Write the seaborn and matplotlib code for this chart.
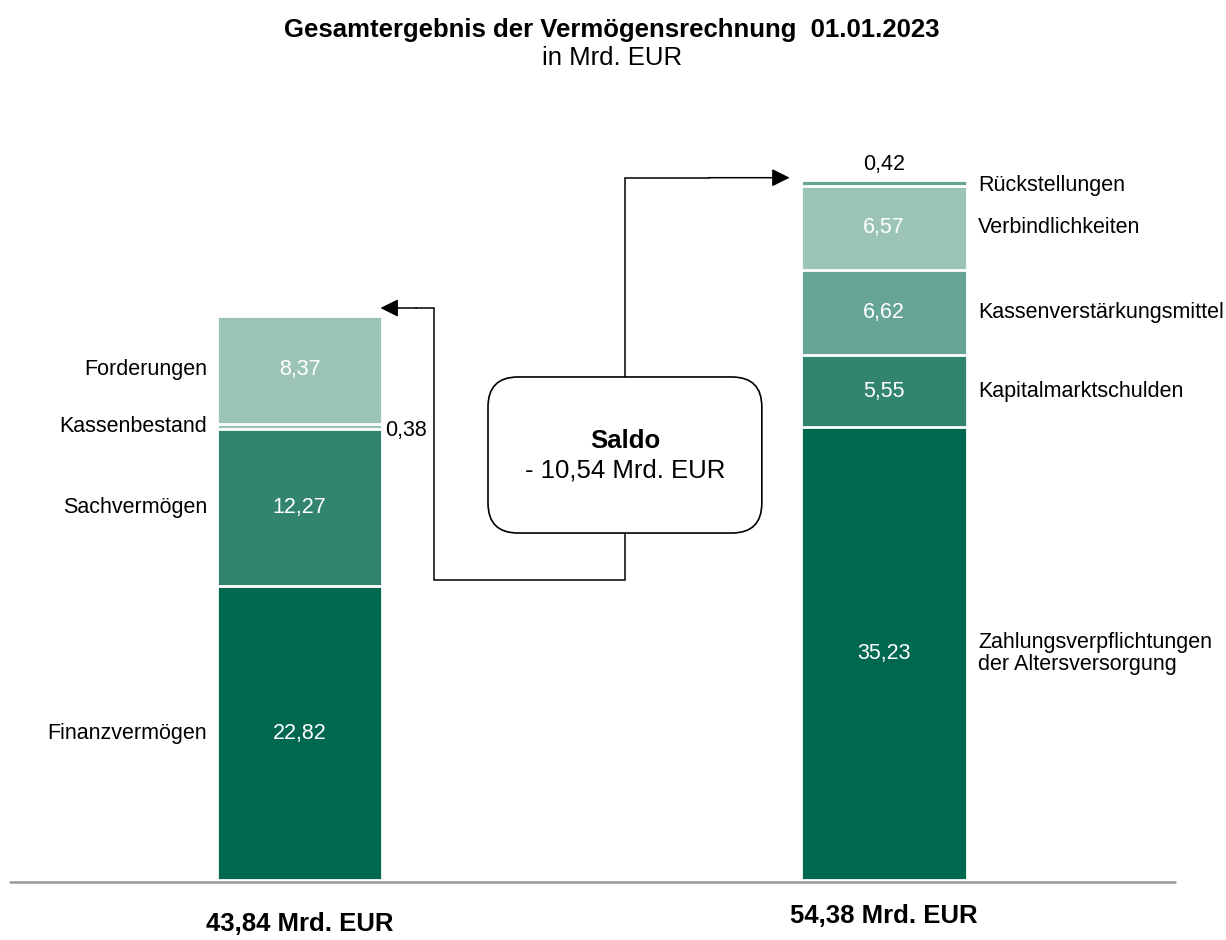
import matplotlib
matplotlib.use("Agg")
import matplotlib.pyplot as plt
from matplotlib.patches import FancyBboxPatch
import seaborn as sns
import pandas as pd

# data
seiten = ["Vermögen", "Schulden"]
aktiva_labels = ["Finanzvermögen", "Sachvermögen", "Kassenbestand", "Forderungen"]
aktiva_werte = [22.82, 12.27, 0.38, 8.37]
passiva_labels = ["Zahlungsverpflichtungen\nder Altersversorgung", "Kapitalmarktschulden",
                  "Kassenverstärkungsmittel", "Verbindlichkeiten", "Rückstellungen"]
passiva_werte = [35.23, 5.55, 6.62, 6.57, 0.42]
summen_text = ["43,84 Mrd. EUR", "54,38 Mrd. EUR"]
saldo_text = "- 10,54 Mrd. EUR"

dunkel = "#00684f"
mittel = "#33846f"
hell = "#66a596"
blass = "#9bc3b8"
aktiva_farben = [dunkel, mittel, blass, blass]
passiva_farben = [dunkel, mittel, hell, blass, hell]

sns.set_theme(style="white")
plt.rcParams["font.family"] = ["Liberation Sans", "DejaVu Sans"]
plt.rcParams["text.color"] = "black"

fig = plt.figure(figsize=(12.26, 9.4), dpi=100)
ax = fig.add_axes([0, 60 / 940, 1, 780 / 940])

bw = 0.283
rows = []
for seite, labels, werte, farben in [(seiten[0], aktiva_labels, aktiva_werte, aktiva_farben),
                                     (seiten[1], passiva_labels, passiva_werte, passiva_farben)]:
    unten = 0
    for lab, w, f in zip(labels, werte, farben):
        rows.append(dict(seite=seite, label=lab, wert=w, unten=unten, oben=unten + w, farbe=f))
        unten += w
df = pd.DataFrame(rows)

# stacked bars: draw cumulative tops from tallest down
for _, r in df.sort_values("oben", ascending=False).iterrows():
    sns.barplot(x=[r.seite], y=[r.oben], order=seiten, color=r.farbe, width=bw,
                saturation=1, edgecolor="white", linewidth=2.0, ax=ax)

ax.set_xlim(-299.5 / 584.5, (1226 - 299.5) / 584.5)
ax.set_ylim(0, 780 / 12.865)
ax.axis("off")
ax.axhline(-0.15, xmin=10 / 1226, xmax=1175 / 1226, color="#999999", lw=1.8, clip_on=False)

fs = 15.5
pos = {s: i for i, s in enumerate(seiten)}
for _, r in df.iterrows():
    x = pos[r.seite]
    mitte = (r.unten + r.oben) / 2
    if r.wert > 1:
        ax.text(x, mitte, f"{r.wert:.2f}".replace(".", ","), color="white",
                ha="center", va="center", fontsize=fs)
    if x == 0:
        ax.text(x - bw / 2 - 0.017, mitte, r.label, ha="right", va="center", fontsize=fs)
    else:
        dy = -0.2 if r.wert < 1 else 0
        ax.text(x + bw / 2 + 0.02, mitte + dy, r.label, ha="left", va="center", fontsize=fs,
                linespacing=1.1)

# small values outside the bars
kb = df[df.label == "Kassenbestand"].iloc[0]
ax.text(bw / 2 + 0.005, (kb.unten + kb.oben) / 2 - 0.35, f"{kb.wert:.2f}".replace(".", ","),
        ha="left", va="center", fontsize=fs)
rs = df[df.label == "Rückstellungen"].iloc[0]
ax.text(1, rs.oben + 1.2, f"{rs.wert:.2f}".replace(".", ","), ha="center", va="center", fontsize=fs)

tot_l = sum(aktiva_werte)
tot_r = sum(passiva_werte)
ax.text(0, -3.4, summen_text[0], ha="center", va="center", fontsize=18.5, fontweight="bold")
ax.text(1, -2.8, summen_text[1], ha="center", va="center", fontsize=18.5, fontweight="bold")

# saldo box
xm = 0.557
bx0, bx1 = 0.3225, 0.791
by0, by1 = 26.97, 39.1
r_px = 30
rs_x = r_px / 584.5
box = FancyBboxPatch((bx0, by0), bx1 - bx0, by1 - by0,
                     boxstyle=f"round,pad=0,rounding_size={rs_x}",
                     mutation_aspect=(r_px / 12.865) / rs_x,
                     facecolor="white", edgecolor="black", lw=1.2, zorder=3)
ax.add_patch(box)
ax.text(xm, by0 + (by1 - by0) * 0.59, "Saldo", ha="center", va="center",
        fontsize=18.5, fontweight="bold", zorder=4)
ax.text(xm, by0 + (by1 - by0) * 0.40, saldo_text, ha="center", va="center",
        fontsize=18.5, zorder=4)

# connectors
aprops = dict(arrowstyle="-|>,head_length=0.4,head_width=0.2", mutation_scale=27,
              color="black", lw=1.1, shrinkA=0, shrinkB=0)
y_r = tot_r + 0.2
ax.plot([xm, xm, 0.70], [by1, y_r, y_r], color="black", lw=1.1, solid_joinstyle="miter")
ax.annotate("", xy=(1 - bw / 2 - 0.02, y_r), xytext=(0.70, y_r), arrowprops=aprops)

y_l = tot_l + 0.62
x_l = 0.230
ax.plot([xm, xm, x_l, x_l, 0.2], [by0, 23.32, 23.32, y_l, y_l], color="black", lw=1.1,
        solid_joinstyle="miter")
ax.annotate("", xy=(bw / 2 - 0.003, y_l), xytext=(0.2, y_l), arrowprops=aprops)

fig.text(612 / 1226, 1 - 30 / 940, "Gesamtergebnis der Vermögensrechnung  01.01.2023",
         ha="center", va="center", fontsize=18.5, fontweight="bold")
fig.text(612 / 1226, 1 - 58 / 940, "in Mrd. EUR", ha="center", va="center", fontsize=18.5)

fig.savefig("out.png", dpi=100)
